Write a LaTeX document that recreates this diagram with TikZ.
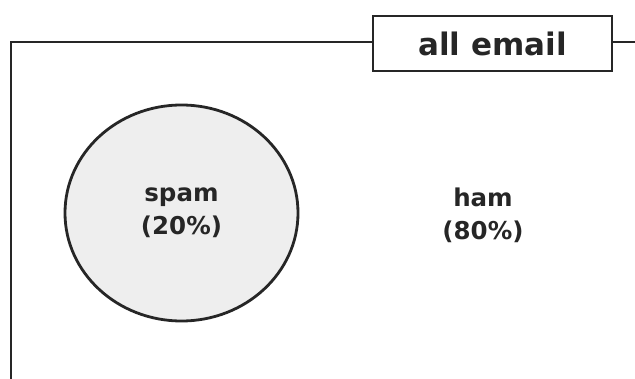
\documentclass[tikz,border=0pt]{standalone}
\usepackage{fontspec}
\setmainfont{DejaVu Sans}
\usetikzlibrary{shapes.geometric}
\definecolor{ink}{HTML}{262626}
\definecolor{spamfill}{HTML}{EEEEEE}
\begin{document}
\begin{tikzpicture}[x=1pt,y=1pt,
  frameline/.style={draw=ink,line width=2.8pt},
  titlebox/.style={draw=ink,line width=2.8pt,fill=white,minimum width=239pt,minimum height=55pt,inner sep=0pt,font=\fontsize{31}{35}\selectfont\bfseries,text=ink},
  setlabel/.style={align=center,font=\fontsize{24.5}{33}\selectfont\bfseries,text=ink},
  spamset/.style={ellipse,draw=ink,line width=2.8pt,fill=spamfill,minimum width=233pt,minimum height=216pt,inner sep=0pt}]
\useasboundingbox (0,0) rectangle (635,378);
\node[titlebox] (all) at (492.5,334.5) {all email};
\coordinate (bl) at (11,-2);
\coordinate (tl) at (11,336);
\coordinate (tr) at (640,336);
\draw[frameline] (bl) -- (tl) -- (all.west |- tl);
\draw[frameline] (all.east |- tr) -- (tr);
\node[spamset,setlabel] (spam) at (181.5,165) {spam\\(20\%)};
\node[setlabel] (ham) at (483,163) {ham\\(80\%)};
\end{tikzpicture}
\end{document}
